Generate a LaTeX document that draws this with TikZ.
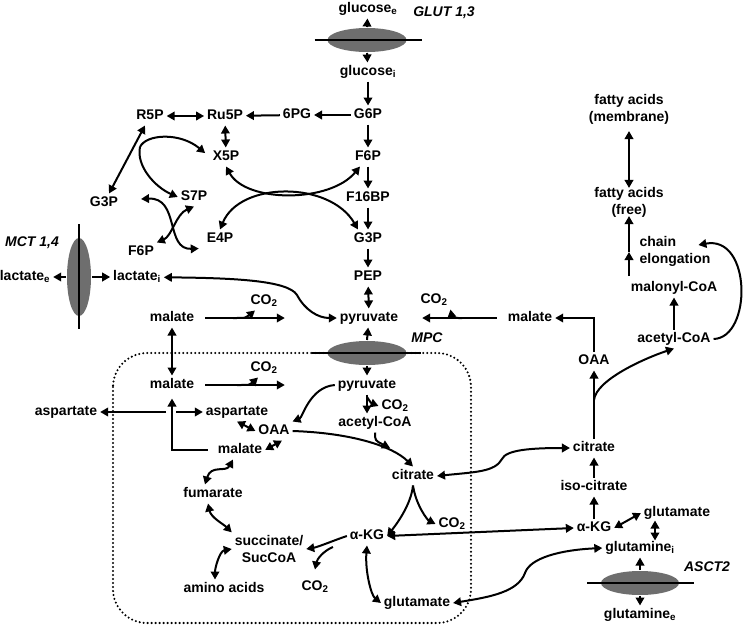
\documentclass[tikz,border=0pt]{standalone}
\usepackage{fontspec}
\setmainfont{Liberation Sans}
\usetikzlibrary{arrows.meta,shapes.geometric}
\def\co{CO\textsubscript{2}}
\def\rx{\draw[->]}
\def\eq{\draw[<->]}
\def\mem{\draw[line width=2.2pt]}

\begin{document}
\begin{tikzpicture}[x=1pt,y=-1pt,line width=2pt,
    >={Triangle[length=8pt,width=8.5pt]},
    met/.style={font=\fontsize{14}{17}\selectfont\bfseries, inner sep=2pt, text height=10pt, text depth=3pt},
    mets/.style={font=\fontsize{14}{17}\selectfont\bfseries, inner sep=2pt, align=center},
    tag/.style={font=\fontsize{14}{17}\selectfont\bfseries\itshape, inner sep=1pt},
    carrier/.style={ellipse, fill=black!57, inner sep=0pt},
    cell/.style={line width=2.3pt, line cap=round, dash pattern=on 0pt off 4pt, rounded corners=34pt}]
    \useasboundingbox (0,0) rectangle (745,627);
    \draw[cell] (113,353) rectangle (471,623);

    \node[carrier, minimum width=79pt, minimum height=24pt] (glut) at (367,40) {};
    \node[carrier, minimum width=24pt, minimum height=78pt] (mct) at (79,277) {};
    \node[carrier, minimum width=79pt, minimum height=24pt] (mpc) at (367,353) {};
    \node[carrier, minimum width=78pt, minimum height=24pt] (asct) at (640,583) {};
    \mem ([xshift=-12pt]glut.west) -- ([xshift=14pt]glut.east);
    \mem ([yshift=13pt]mct.north) -- ([yshift=-12pt]mct.south);
    \mem ([xshift=-15pt]mpc.west) -- ([xshift=13pt]mpc.east);
    \mem ([xshift=-13pt]asct.west) -- ([xshift=14pt]asct.east);

    \node[tag] (glutl) at (444,13) {GLUT 1,3};
    \node[tag] (mctl) at (32,243) {MCT 1,4};
    \node[tag] (mpcl) at (427,338) {MPC};
    \node[tag] (asctl) at (707,567) {ASCT2};

    \node[met] (glce) at (368,9) {glucose\textsubscript{e}};
    \node[met] (glci) at (368,72) {glucose\textsubscript{i}};
    \node[met] (g6p) at (368,115) {G6P};
    \node[met] (pgl) at (297,115) {6PG};
    \node[met] (ru5p) at (225,116) {Ru5P};
    \node[met] (r5p) at (150,116) {R5P};
    \node[met] (x5p) at (226,157) {X5P};
    \node[met] (f6p) at (368,157) {F6P};
    \node[met] (g3pp) at (104,203) {G3P};
    \node[met] (s7p) at (194,197) {S7P};
    \node[met] (fbp) at (368,198) {F16BP};
    \node[met] (e4p) at (220,239) {E4P};
    \node[met] (g3p) at (368,239) {G3P};
    \node[met] (f6pp) at (141,252) {F6P};
    \node[met] (lace) at (25,277) {lactate\textsubscript{e}};
    \node[met] (laci) at (137,277) {lactate\textsubscript{i}};
    \node[met] (pep) at (368,277) {PEP};
    \node[met] (malo) at (172,318) {malate};
    \node[met] (co2a) at (264,301) {\co};
    \node[met] (pyro) at (369,318) {pyruvate};
    \node[met] (co2f) at (434,300) {\co};
    \node[met] (malr) at (530,318) {malate};
    \node[met] (accr) at (674,339) {acetyl-CoA};
    \node[met] (oaar) at (594,361) {OAA};
    \node[met] (mall) at (172,385) {malate};
    \node[met] (co2b) at (264,368) {\co};
    \node[met] (pyri) at (367,385) {pyruvate};
    \node[met] (co2e) at (395,406) {\co};
    \node[met] (aspo) at (66,412) {aspartate};
    \node[met] (aspi) at (237,412) {aspartate};
    \node[met] (acci) at (375,423) {acetyl-CoA};
    \node[met] (oaai) at (274,431) {OAA};
    \node[met] (mali) at (240,450) {malate};
    \node[met] (citr) at (594,448) {citrate};
    \node[met] (citi) at (413,476) {citrate};
    \node[met] (isoc) at (594,487) {iso-citrate};
    \node[met] (fum) at (213,494) {fumarate};
    \node[met] (glur) at (677,513) {glutamate};
    \node[met] (co2d) at (452,524) {\co};
    \node[met] (akgr) at (594,528) {α-KG};
    \node[met] (akgi) at (367,536) {α-KG};
    \node[met] (glni) at (640,548) {glutamine\textsubscript{i}};
    \node[mets] (succ) at (269,549) {succinate/\\SucCoA};
    \node[met] (amino) at (224,589) {amino acids};
    \node[met] (co2c) at (315,587) {\co};
    \node[met] (glui) at (417,603) {glutamate};
    \node[met] (glne) at (640,615) {glutamine\textsubscript{e}};
    \node[mets] (fam) at (629,109) {fatty acids\\(membrane)};
    \node[mets] (faf) at (629,202) {fatty acids\\(free)};
    \node[mets, align=left] (chain) at (675,251) {chain\\elongation};
    \node[met] (malco) at (674,288) {malonyl-CoA};

    \coordinate (tk) at (140,147);
    \coordinate (ba) at (233,318);
    \coordinate (bb) at (237,385);
    \coordinate (bf) at (462,318);
    \coordinate (bp) at (367,397);
    \coordinate (mc) at (390,448);
    \coordinate (bk) at (333,547);
    \coordinate (bc) at (594,400);
    \coordinate (jl) at (166,412);
    \coordinate (jr) at (176,412);
    \coordinate (ch) at (629,276);
    \coordinate (chm) at (629,252);

    \rx (glut.north) -- (glce);
    \rx (glut.south) -- (glci);
    \rx (glci) -- (g6p);
    \rx (g6p) -- (f6p);
    \rx (f6p) -- (fbp);
    \rx (fbp) -- (g3p);
    \rx (g3p) -- (pep);
    \eq (pep) -- (pyro);
    \rx (mpc.north) -- (pyro);
    \rx (mpc.south) -- (pyri);

    \rx (g6p) -- (pgl);
    \rx (pgl) -- (ru5p);
    \eq (r5p) -- (ru5p);
    \eq (ru5p) -- (x5p);
    \eq (r5p) -- (g3pp);
    \draw[->, shorten >=6pt] (tk) .. controls (146,134) and (180,132) .. (x5p.west);
    \rx (tk) .. controls (136,166) and (155,187) .. (s7p.west);
    \eq ([xshift=20pt,yshift=4pt]g3pp.east) .. controls (180,197) and (165,250) .. ([xshift=-5pt]e4p.south west);
    \eq (s7p.south) .. controls (176,214) and (172,236) .. (f6pp.north east);
    \eq (x5p.south) .. controls (246,203) and (330,203) .. ([xshift=-8pt]f6p.south);
    \eq (e4p.north) .. controls (240,181) and (330,181) .. ([xshift=-10pt]g3p.north);

    \rx (mct.west) -- (lace);
    \rx (mct.east) -- (laci);
    \eq (laci) .. controls (230,278) and (288,280) .. (297,295) .. controls (305,310) and (318,318) .. (pyro.west);

    \draw[->, shorten <=8pt, shorten >=52pt] (malo) -- (pyro);
    \rx (ba) .. controls (246,318) .. ([xshift=-9pt]co2a.south);
    \eq (malo) -- (mall);
    \draw[->, shorten <=8pt, shorten >=50pt] (mall) -- (pyri);
    \rx (bb) .. controls (250,385) .. ([xshift=-6pt]co2b.south);
    \draw[->, shorten <=7pt, shorten >=4pt] (mali.west) -| (mall.south);
    \rx (jl) -- (aspo);
    \rx (jr) -- (aspi);
    \eq (aspi.south) -- (oaai.west);
    \eq (mali.east) -- ([xshift=8pt]oaai.south);
    \eq ([xshift=-7pt]mali.south) .. controls +(-7,13) and +(6,-20) .. ([xshift=-8pt]fum.north);
    \eq ([xshift=-5pt]fum.south) .. controls +(3,14) and +(-8,-8) .. (succ.north west);
    \eq (succ.west) .. controls +(-12,2) and +(0,-12) .. ([xshift=-9pt]amino.north);

    \rx (pyri.west) .. controls +(-25,2) and +(10,-4) .. (oaai.north east);
    \rx (pyri.south) -- (pyri.south |- acci.north);
    \rx (bp) .. controls +(4,6) .. (co2e.west);
    \rx (oaai.east) .. controls +(60,2) and +(-20,-20) .. (citi.north);
    \rx (acci.south) .. controls +(0,8) .. (mc);
    \rx (citi.south) .. controls +(-2,20) and +(8,-10) .. (akgi.east);
    \rx (citi.south) .. controls +(3,20) and +(-8,-4) .. (co2d.west);
    \rx (akgi.west) .. controls +(-12,4) and +(12,-2) .. (succ.east);
    \rx (bk) .. controls +(-10,4) and +(2,-10) .. ([yshift=8pt]co2c.north);
    \eq (akgi.south) .. controls +(-2,25) and +(-10,-8) .. (glui.west);

    \draw[->, shorten <=8pt, shorten >=21pt] (malr) -- (pyro);
    \rx (bf) .. controls (452,318) .. (co2f.south east);
    \rx (oaar.north) |- (malr.east);
    \rx (citr) -- (oaar);
    \rx (bc) .. controls +(2,-20) and +(-30,10) .. (accr.south);
    \rx (isoc) -- (citr);
    \rx (akgr) -- (isoc);
    \eq (akgr.east) -- (glur.west);
    \draw[<->, shorten <=-2pt, shorten >=-2pt] ([xshift=-22pt]glur.south) -- ([xshift=15pt]glni.north);
    \rx (asct.north) -- (glni);
    \rx (asct.south) -- (glne);
    \eq (citi.east) .. controls (475,472) and (495,472) .. (502,459) .. controls (506,450) and (530,448) .. (citr.west);
    \eq (akgi.east) -- (akgr.west);
    \eq (glui.east) .. controls (490,597) and (518,592) .. (525,573) .. controls (530,558) and (560,550) .. (glni.west);

    \rx (accr) -- (malco);
    \rx (ch) -- (chm);
    \draw[->, shorten >=-4pt] (chm) -- (faf);
    \rx (accr.east) .. controls (752,338) and (752,235) .. ([xshift=-15pt,yshift=6pt]chain.east);
    \draw[<->, shorten <=4pt, shorten >=-4pt] (fam) -- (faf);
\end{tikzpicture}
\end{document}
